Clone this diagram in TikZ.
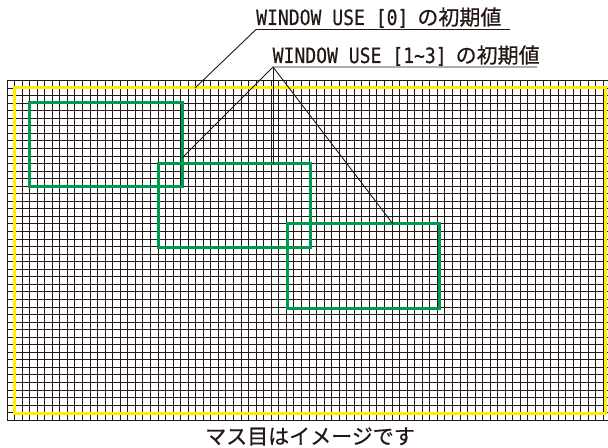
\documentclass[tikz,border=0pt]{standalone}
\usepackage{fontspec}
\newfontfamily\cjk[FakeBold=0.6]{Noto Sans CJK JP}
\newfontfamily\mono[FakeBold=0.5]{DejaVu Sans Mono}
\definecolor{ink}{HTML}{231815}
\definecolor{winyellow}{HTML}{FFEE00}
\definecolor{wingreen}{HTML}{009A4E}
\newcommand{\latinpart}[1]{\scalebox{0.86}[1]{\fontsize{21bp}{24bp}\mono #1}}
\tikzset{
  gridline/.style={draw=ink, line width=0.95bp},
  outerbox/.style={draw=winyellow, line width=3bp, inner sep=0pt, outer sep=0pt},
  winbox/.style={draw=wingreen, line width=3bp, inner sep=0pt, outer sep=0pt, minimum width=152bp, minimum height=84bp},
  leader/.style={draw=ink, line width=0.9bp},
  lbl/.style={inner sep=0pt, anchor=base west, text=ink},
}
\begin{document}
\begin{tikzpicture}[x=1bp,y=-1bp]
\fill[white] (0,0) rectangle (608,448);
\useasboundingbox (0,0) rectangle (608,448);
\begin{scope}
\clip (0,0) rectangle (608,448);
\foreach \i in {0,...,80}
  \draw[gridline] ({7+\i*7.55},80.5) -- ({7+\i*7.55},420.25);
\foreach \j in {0,...,45}
  \draw[gridline] (7,{80.5+\j*7.55}) -- (612,{80.5+\j*7.55});
\end{scope}
% yellow WINDOW USE [0]
\node[outerbox, minimum width=590bp, minimum height=325bp] (w0) at (310,250.5) {};
% green WINDOW USE [1~3]
\node[winbox] (w1) at (106,145) {};
\node[winbox] (w2) at (234,205.5) {};
\node[winbox] (w3) at (363,266) {};
% labels
\node[lbl] (l0) at (256,25) {\latinpart{WINDOW USE [0]}\hspace{9bp}\fontsize{21bp}{24bp}\cjk の初期値};
\node[lbl] (l1) at (272.5,63) {\latinpart{WINDOW USE [1\char`~3]}\hspace{9bp}\fontsize{21bp}{24bp}\cjk の初期値};
\coordinate (a0) at (256,29.5);
\coordinate (e0) at (510,29.5);
\coordinate (a1) at (273,67);
\coordinate (e1) at (537,67);
\coordinate (t0) at (195,88);
\coordinate (t1) at (182,158);
\coordinate (t2) at (273,164);
\coordinate (t3) at (393,224);
\draw[leader] (e0) -- (a0) -- (t0);
\draw[leader] (e1) -- (a1) -- (t1);
\draw[leader] (a1) -- (t2);
\draw[leader] (a1) -- (t3);
% caption
\node[inner sep=0pt, text=ink] (cap) at (310,436.5) {\fontsize{21bp}{24bp}\cjk マス目はイメージです};
\end{tikzpicture}
\end{document}
